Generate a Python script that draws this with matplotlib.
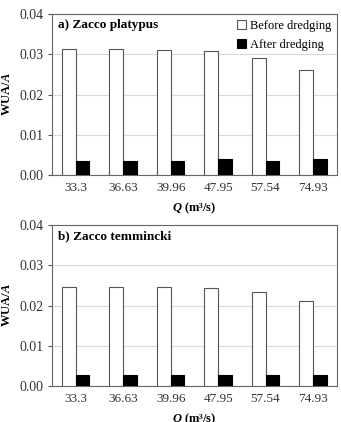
import numpy as np
import matplotlib.pyplot as plt

plt.rcParams['font.family'] = ['Liberation Serif', 'DejaVu Serif']
plt.rcParams['mathtext.fontset'] = 'custom'
plt.rcParams['mathtext.rm'] = 'Liberation Serif'
plt.rcParams['mathtext.it'] = 'Liberation Serif:italic:bold'
plt.rcParams['mathtext.bf'] = 'Liberation Serif:bold'

flows = ['33.3', '36.63', '39.96', '47.95', '57.54', '74.93']
platypus_before = [0.0312, 0.0312, 0.0311, 0.0307, 0.0291, 0.0260]
platypus_after = [0.0036, 0.0036, 0.0036, 0.0039, 0.0036, 0.0039]
temmincki_before = [0.0245, 0.0247, 0.0247, 0.0243, 0.0234, 0.0210]
temmincki_after = [0.0028, 0.0028, 0.0028, 0.0028, 0.0028, 0.0028]

fig = plt.figure(figsize=(3.41, 4.22), dpi=100)
ax1 = fig.add_axes([0.1525, 0.5853, 0.835, 0.3815])
ax2 = fig.add_axes([0.1525, 0.0853, 0.835, 0.3815])

x = np.arange(len(flows))
w = 0.29

panels = [(ax1, platypus_before, platypus_after, 'a) Zacco platypus'),
          (ax2, temmincki_before, temmincki_after, 'b) Zacco temmincki')]

for ax, before, after, title in panels:
    ax.bar(x - w / 2, before, w, color='white', edgecolor='#555555', linewidth=0.8,
           label='Before dredging', zorder=3)
    ax.bar(x + w / 2, after, w, color='black', edgecolor='black', linewidth=0.8,
           label='After dredging', zorder=3)
    ax.set_xlim(-0.5, len(flows) - 0.5)
    ax.set_ylim(0, 0.04)
    ax.set_yticks([0, 0.01, 0.02, 0.03, 0.04])
    ax.set_yticklabels(['0.00', '0.01', '0.02', '0.03', '0.04'])
    ax.set_xticks(x)
    ax.set_xticklabels(flows)
    ax.yaxis.grid(True, color='#d9d9d9', linewidth=0.8, zorder=0)
    ax.set_axisbelow(True)
    ax.tick_params(axis='y', length=3, width=0.8, color='#555555', labelsize=10,
                   labelcolor='#333333', pad=3)
    ax.tick_params(axis='x', length=0, labelsize=9.5, labelcolor='#333333', pad=5)
    for s in ax.spines.values():
        s.set_color('#666666')
        s.set_linewidth(0.8)
    ax.set_ylabel(r'WUA/$\mathit{A}$', fontsize=9, fontweight='bold', labelpad=5)
    ax.set_xlabel(r'$\mathit{Q}$ (m³/s)', fontsize=9, fontweight='bold', labelpad=5)
    ax.text(0.021, 0.932, title, transform=ax.transAxes, fontsize=9.5, fontweight='bold',
            va='center', ha='left')

ax1.legend(loc='upper right', bbox_to_anchor=(1.0, 1.0), frameon=False, fontsize=9,
           handlelength=0.7, handleheight=0.7, handletextpad=0.3, labelspacing=0.6,
           borderaxespad=0.15, borderpad=0.3)

fig.savefig('out.png', dpi=100)
